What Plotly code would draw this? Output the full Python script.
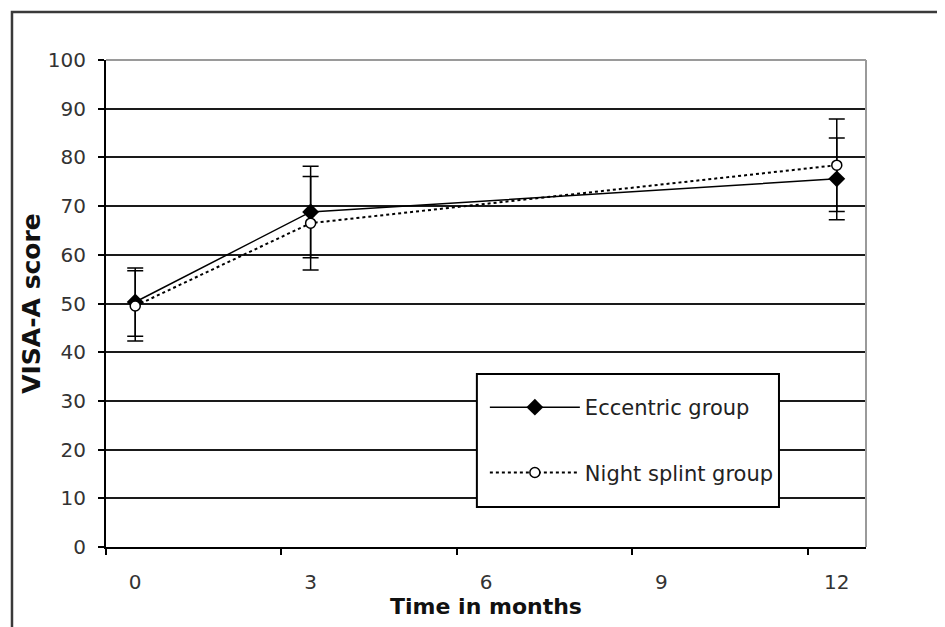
import plotly.graph_objects as go

months = [0, 3, 12]
ecc_mean = [50.3, 68.8, 75.6]
ecc_sd = [7.0, 9.4, 8.4]
night_mean = [49.5, 66.5, 78.4]
night_sd = [7.2, 9.6, 9.5]

x_ticks = [0, 3, 6, 9, 12]
y_ticks = [0, 10, 20, 30, 40, 50, 60, 70, 80, 90, 100]

FONT = "DejaVu Sans, Verdana, sans-serif"
BOLD = "DejaVu Sans, Verdana, sans-serif"

fig = go.Figure()
fig.add_trace(go.Scatter(
    x=months, y=ecc_mean, name="Eccentric group", mode="lines+markers",
    legendgroup="a",
    line=dict(color="black", width=1.5),
    marker=dict(symbol="diamond", size=13, color="black"),
    error_y=dict(type="data", array=ecc_sd, color="black", thickness=1.5, width=8),
))
fig.add_trace(go.Scatter(
    x=months, y=night_mean, name="Night splint group", mode="lines+markers",
    legendgroup="b",
    line=dict(color="black", width=2, dash="dot"),
    marker=dict(symbol="circle", size=10, color="white", line=dict(color="black", width=1.5)),
    error_y=dict(type="data", array=night_sd, color="black", thickness=1.5, width=8),
))

fig.update_layout(
    width=945, height=627,
    margin=dict(l=98, r=87, t=52, b=88),
    paper_bgcolor="white", plot_bgcolor="white",
    font=dict(family=FONT, size=20, color="#222"),
    showlegend=True,
    legend=dict(
        x=0.4985, y=0.3285, xanchor="left", yanchor="top",
        bgcolor="rgba(0,0,0,0)", borderwidth=0,
        font=dict(family=FONT, size=21, color="#222"),
        itemwidth=90, tracegroupgap=35,
    ),
    xaxis=dict(
        range=[-0.5, 12.5], tickmode="array", tickvals=x_ticks,
        ticktext=[str(v) for v in x_ticks],
        ticks="", ticklabelstandoff=16,
        showgrid=False, zeroline=False,
        showline=True, linecolor="black", linewidth=2,
        minor=dict(tick0=-0.5, dtick=3, ticks="outside", ticklen=6,
                   tickcolor="black", tickwidth=2, showgrid=False),
        title=dict(text="<b>Time in months</b>", font=dict(family=BOLD, size=22, color="#111"), standoff=1),
        tickfont=dict(family=FONT, size=20, color="#333"),
    ),
    yaxis=dict(
        range=[0, 100], tickmode="array", tickvals=y_ticks,
        ticks="outside", ticklen=6, tickcolor="black", tickwidth=2,
        ticklabelstandoff=8,
        showgrid=True, gridcolor="#1a1a1a", gridwidth=2,
        zeroline=False,
        showline=True, linecolor="black", linewidth=2,
        title=dict(text="<b>VISA-A score</b>", font=dict(family=BOLD, size=25, color="#111"), standoff=0),
        tickfont=dict(family=FONT, size=20, color="#333"),
    ),
    shapes=[
        dict(type="line", xref="paper", yref="paper", x0=0, x1=1, y0=1, y1=1,
             line=dict(color="#9a9a9a", width=2)),
        dict(type="line", xref="paper", yref="paper", x0=1, x1=1, y0=0, y1=1,
             line=dict(color="#9a9a9a", width=2)),
        dict(type="rect", xref="paper", yref="paper",
             x0=0.488, x1=0.8855, y0=0.0821, y1=0.3552,
             fillcolor="white", line=dict(color="black", width=2), layer="above"),
        dict(type="rect", xref="paper", yref="paper",
             x0=-0.1237, x1=1.1, y0=-0.2, y1=1.0986,
             line=dict(color="#3a3a3a", width=2.5), layer="below"),
    ],
)

fig.write_html("out.html")
